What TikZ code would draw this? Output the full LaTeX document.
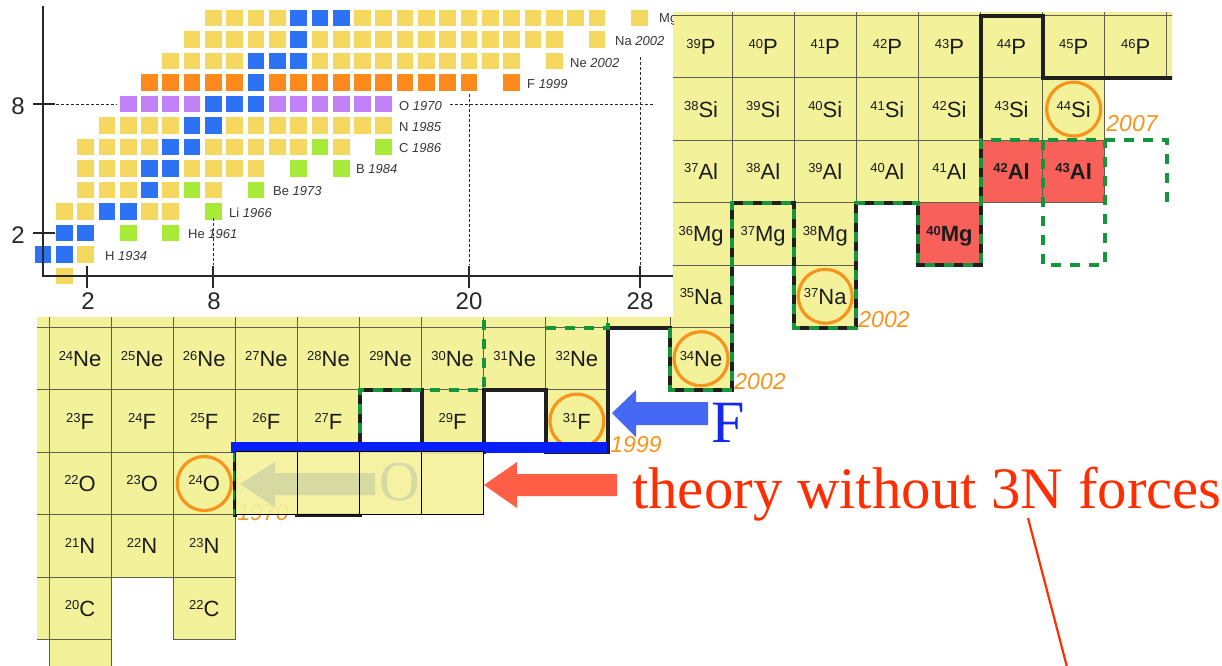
\documentclass[tikz,border=0pt]{standalone}
\usepackage{fontspec}
\setmainfont{Liberation Serif}
\setsansfont{Liberation Sans}
\definecolor{cellY}{RGB}{244,241,155}
\definecolor{cellR}{RGB}{248,96,90}
\definecolor{gridc}{RGB}{95,95,80}
\definecolor{lblc}{RGB}{28,28,28}
\definecolor{sqY}{RGB}{244,216,96}
\definecolor{sqB}{RGB}{45,114,245}
\definecolor{sqO}{RGB}{252,138,28}
\definecolor{sqP}{RGB}{193,128,245}
\definecolor{sqG}{RGB}{168,234,56}
\definecolor{orng}{RGB}{247,148,29}
\definecolor{dgreen}{RGB}{22,150,60}
\definecolor{axgray}{RGB}{40,40,40}
\definecolor{labgray}{RGB}{55,55,55}
\definecolor{barblue}{RGB}{5,30,250}
\definecolor{arrblue}{RGB}{70,105,245}
\definecolor{fblue}{RGB}{20,40,240}
\definecolor{arrred}{RGB}{255,95,70}
\definecolor{txtred}{RGB}{255,45,0}
\definecolor{ghostc}{RGB}{214,217,162}
\newcommand\iso[2]{{\fontsize{13}{13}\selectfont\raisebox{6.5pt}{#1}}{\fontsize{22}{22}\selectfont #2}}
\newcommand\isob[2]{{\bfseries\fontsize{13}{13}\selectfont\raisebox{6.5pt}{#1}}{\bfseries\fontsize{22}{22}\selectfont #2}}
\newcommand\sqr[3]{\fill[#3] (#1-0.39,#2-0.39) rectangle (#1+0.39,#2+0.39);}
\newcommand\sqrun[4]{\foreach \n in {#2,...,#3}{\sqr{\n}{#1}{#4}}}
\tikzset{
 cellbox/.style={fill=cellY, draw=gridc, line width=1pt},
 redbox/.style={fill=cellR, draw=gridc, line width=1pt},
 lbl/.style={font=\sffamily, text=lblc, inner sep=0pt, anchor=base},
 blk/.style={draw=black!88, line width=4pt, line join=miter, line cap=rect},
 grn/.style={draw=dgreen, line width=4pt, dash pattern=on 10pt off 9pt},
 ring/.style={draw=orng, line width=3.2pt},
 yr/.style={font=\sffamily\itshape\fontsize{23}{23}\selectfont, text=orng, inner sep=0pt},
 elab/.style={anchor=west, inner sep=0pt, font=\sffamily\fontsize{13}{13}\selectfont, text=labgray},
 axnum/.style={inner sep=0pt, font=\sffamily\fontsize{24}{24}\selectfont, text=axgray},
 magic/.style={draw=axgray, line width=0.9pt, dash pattern=on 3pt off 2pt},
 axis/.style={draw=axgray, line width=1.8pt},
 overlay box/.style={fill=cellY, fill opacity=0.92, draw=none},
}
\begin{document}
\begin{tikzpicture}[x=1pt,y=-1pt]
\useasboundingbox (0,0) rectangle (1222,665);
% ===================== nuclear chart =====================
\begin{scope}
\clip (37,12) rectangle (1172,665);
\begin{scope}[shift={(49,327.5)},x=62.1pt,y=-62.4pt]
% cells
\foreach \u in {10,...,18} \filldraw[cellbox] (\u,-6) rectangle ++(1,1);
\foreach \u in {10,...,18} \filldraw[cellbox] (\u,-5) rectangle ++(1,1);
\foreach \u in {10,...,16} \filldraw[cellbox] (\u,-4) rectangle ++(1,1);
\foreach \u in {10,...,14} \filldraw[cellbox] (\u,-3) rectangle ++(1,1);
\filldraw[redbox] (15,-3) rectangle ++(1,1);
\filldraw[redbox] (16,-3) rectangle ++(1,1);
\foreach \u in {10,11,12} \filldraw[cellbox] (\u,-2) rectangle ++(1,1);
\filldraw[redbox] (14,-2) rectangle ++(1,1);
\foreach \u in {-1,...,10} \filldraw[cellbox] (\u,-1) rectangle ++(1,1);
\filldraw[cellbox] (12,-1) rectangle ++(1,1);
\foreach \u in {-1,...,8} \filldraw[cellbox] (\u,0) rectangle ++(1,1);
\filldraw[cellbox] (10,0) rectangle ++(1,1);
\foreach \u in {-1,...,4} \filldraw[cellbox] (\u,1) rectangle ++(1,1);
\filldraw[cellbox] (6,1) rectangle ++(1,1);
\filldraw[cellbox] (8,1) rectangle ++(1,1);
\foreach \u in {-1,...,2} \filldraw[cellbox] (\u,2) rectangle ++(1,1);
\foreach \u in {-1,...,2} \filldraw[cellbox] (\u,3) rectangle ++(1,1);
\foreach \u in {-1,0,2} \filldraw[cellbox] (\u,4) rectangle ++(1,1);
\filldraw[cellbox] (0,5) rectangle ++(1,1);
% labels
\foreach \u in {10,...,17}{\pgfmathtruncatemacro\A{\u+29}\node[lbl] (P\A) at (\u+0.5,-4.372) {\iso{\A}{P}};}
\foreach \u in {10,...,16}{\pgfmathtruncatemacro\A{\u+28}\node[lbl] (Si\A) at (\u+0.5,-3.372) {\iso{\A}{Si}};}
\foreach \u in {10,...,14}{\pgfmathtruncatemacro\A{\u+27}\node[lbl] (Al\A) at (\u+0.5,-2.372) {\iso{\A}{Al}};}
\node[lbl] (Al42) at (15.5,-2.372) {\isob{42}{Al}};
\node[lbl] (Al43) at (16.5,-2.372) {\isob{43}{Al}};
\foreach \u in {10,11,12}{\pgfmathtruncatemacro\A{\u+26}\node[lbl] (Mg\A) at (\u+0.5,-1.372) {\iso{\A}{Mg}};}
\node[lbl] (Mg40) at (14.5,-1.372) {\isob{40}{Mg}};
\node[lbl] (Na35) at (10.5,-0.372) {\iso{35}{Na}};
\node[lbl] (Na37) at (12.5,-0.372) {\iso{37}{Na}};
\foreach \u in {0,...,8}{\pgfmathtruncatemacro\A{\u+24}\node[lbl] (Ne\A) at (\u+0.5,0.628) {\iso{\A}{Ne}};}
\node[lbl] (Ne34) at (10.5,0.628) {\iso{34}{Ne}};
\foreach \u in {0,...,4}{\pgfmathtruncatemacro\A{\u+23}\node[lbl] (F\A) at (\u+0.5,1.628) {\iso{\A}{F}};}
\node[lbl] (F29) at (6.5,1.628) {\iso{29}{F}};
\node[lbl] (F31) at (8.5,1.628) {\iso{31}{F}};
\foreach \u in {0,...,2}{\pgfmathtruncatemacro\A{\u+22}\node[lbl] (O\A) at (\u+0.5,2.628) {\iso{\A}{O}};}
\foreach \u in {0,...,2}{\pgfmathtruncatemacro\A{\u+21}\node[lbl] (N\A) at (\u+0.5,3.628) {\iso{\A}{N}};}
\node[lbl] (C20) at (0.5,4.628) {\iso{20}{C}};
\node[lbl] (C22) at (2.5,4.628) {\iso{22}{C}};
% circles
\draw[ring] (16.5,-3.5) circle[radius=27pt];
\draw[ring] (12.5,-0.5) circle[radius=27pt];
\draw[ring] (10.5,0.5) circle[radius=27pt];
\draw[ring] (8.5,1.5) circle[radius=27pt];
\draw[ring] (2.5,2.5) circle[radius=27pt];
% drip lines: black (experiment)
\draw[blk] (5,2) -- (5,1) -- (6,1) -- (6,2) -- (7,2) -- (7,1) -- (8,1) -- (8,2) -- (9,2) -- (9,0) -- (10,0) -- (10,1) -- (11,1) -- (11,-2) -- (12,-2) -- (12,0) -- (13,0) -- (13,-2) -- (14,-2) -- (14,-1) -- (15,-1) -- (15,-5) -- (16,-5) -- (16,-4) -- (18.3,-4);
\draw[blk] (3,2) -- (3,3);
\draw[blk] (4,3) -- (5,3);
% green dashed (theory)
\draw[grn] (3,2) -- (3,3);
\draw[grn] (5,2) -- (5,1) -- (6,1) -- (7,1) -- (7,-1);
\draw[grn] (8,0) -- (9,0) -- (9,-1);
\draw[grn] (10,0) -- (10,1) -- (11,1) -- (11,-2) -- (12,-2) -- (12,0) -- (13,0) -- (13,-2) -- (14,-2) -- (14,-1) -- (15,-1) -- (15,-3) -- (18,-3) -- (18,-2) -- (18.3,-2);
\draw[grn] (16,-3) -- (16,-1) -- (17,-1) -- (17,-3);
\end{scope}
\end{scope}
% years
\node[yr] (y2007) at (1132,124) {2007};
\node[yr] (y2002a) at (884,320) {2002};
\node[yr] (y2002b) at (760,382) {2002};
\node[yr] (y1999) at (636,445) {1999};
\node[yr] (y1970) at (263,513) {1970};
% blue bar
\fill[barblue] (231,442) rectangle (607,453);
% overlay boxes (theory without 3N)
\fill[overlay box] (235.3,451) rectangle (483.7,514);
\fill[ghostc] (240,484) -- (275,462) -- (275,473) -- (375,473) -- (375,495) -- (275,495) -- (275,507) -- cycle;
\node[inner sep=0pt, text=ghostc, font=\fontsize{56}{56}\selectfont] (ghostO) at (400,482) {O};
\foreach \a/\b in {235.3/297.4, 297.4/359.5, 359.5/421.6, 421.6/483.7}
  \draw[black, line width=0.9pt] (\a,451) rectangle (\b,514);
% ===================== inset =====================
\fill[white] (0,0) rectangle (673,317);
\begin{scope}
\clip (0,0) rectangle (673,317);
\begin{scope}[shift={(43,276)},x=21.3pt,y=21.5pt]
\sqr{1}{0}{sqY}
\sqr{0}{1}{sqB}\sqr{1}{1}{sqB}\sqr{2}{1}{sqY}
\sqr{1}{2}{sqB}\sqr{2}{2}{sqB}\sqr{4}{2}{sqG}\sqr{6}{2}{sqG}
\sqrun{3}{1}{2}{sqY}\sqrun{3}{3}{4}{sqB}\sqrun{3}{5}{6}{sqY}\sqr{8}{3}{sqG}
\sqrun{4}{2}{4}{sqY}\sqr{5}{4}{sqB}\sqr{6}{4}{sqY}\sqr{7}{4}{sqG}\sqr{8}{4}{sqY}\sqr{10}{4}{sqG}
\sqrun{5}{2}{4}{sqY}\sqrun{5}{5}{6}{sqB}\sqrun{5}{7}{10}{sqY}\sqr{12}{5}{sqG}\sqr{14}{5}{sqG}
\sqrun{6}{2}{5}{sqY}\sqrun{6}{6}{7}{sqB}\sqrun{6}{8}{12}{sqY}\sqr{13}{6}{sqG}\sqr{14}{6}{sqY}\sqr{16}{6}{sqG}
\sqrun{7}{3}{6}{sqY}\sqrun{7}{7}{8}{sqB}\sqrun{7}{9}{16}{sqY}
\sqrun{8}{4}{7}{sqP}\sqrun{8}{8}{10}{sqB}\sqrun{8}{11}{16}{sqP}
\sqrun{9}{5}{9}{sqO}\sqr{10}{9}{sqB}\sqrun{9}{11}{20}{sqO}\sqr{22}{9}{sqO}
\sqrun{10}{6}{9}{sqY}\sqrun{10}{10}{12}{sqB}\sqrun{10}{13}{22}{sqY}\sqr{24}{10}{sqY}
\sqrun{11}{7}{11}{sqY}\sqr{12}{11}{sqB}\sqrun{11}{13}{24}{sqY}\sqr{26}{11}{sqY}
\sqrun{12}{8}{11}{sqY}\sqrun{12}{12}{14}{sqB}\sqrun{12}{15}{26}{sqY}\sqr{28}{12}{sqY}
\end{scope}
% axes
\draw[axis] (43,6) -- (43,276) -- (673,276);
\draw[axis] (33,104) -- (55,104);
\draw[axis] (33,233) -- (55,233);
\foreach \x in {87,213,469,640} \draw[axis] (\x,266) -- (\x,288);
% magic-number dashed lines
\draw[magic] (56,104) -- (117,104);
\draw[magic] (450,104) -- (655,104);
\draw[magic] (213,218) -- (213,265);
\draw[magic] (469,94) -- (469,265);
\draw[magic] (640,57) -- (640,265);
% axis numbers
\node[axnum] (ya8) at (18,106) {8};
\node[axnum] (ya2) at (18,235) {2};
\node[axnum] (xa2) at (88,301) {2};
\node[axnum] (xa8) at (214,301) {8};
\node[axnum] (xa20) at (469,301) {20};
\node[axnum] (xa28) at (640,301) {28};
% element labels
\node[elab] (lH)  at (105,256) {H \textit{1934}};
\node[elab] (lHe) at (188,234) {He \textit{1961}};
\node[elab] (lLi) at (229,213) {Li \textit{1966}};
\node[elab] (lBe) at (273,191) {Be \textit{1973}};
\node[elab] (lB)  at (356,169) {B \textit{1984}};
\node[elab] (lC)  at (399,148) {C \textit{1986}};
\node[elab] (lN)  at (399,127) {N \textit{1985}};
\node[elab] (lO)  at (399,106) {O \textit{1970}};
\node[elab] (lF)  at (527,84) {F \textit{1999}};
\node[elab] (lNe) at (570,63) {Ne \textit{2002}};
\node[elab] (lNa) at (615,41) {Na \textit{2002}};
\node[elab] (lMg) at (659,19) {Mg};
\end{scope}
% ===================== arrows and captions =====================
\fill[arrblue] (612,413) -- (636,390) -- (636,402) -- (708,402) -- (708,425) -- (636,425) -- (636,437) -- cycle;
\node[anchor=base west, inner sep=0pt, text=fblue, font=\fontsize{60}{60}\selectfont] (Flab) at (711,442) {F};
\fill[arrred] (484,485) -- (517,462) -- (517,474) -- (617,474) -- (617,496) -- (517,496) -- (517,508) -- cycle;
\node[anchor=base west, inner sep=0pt, text=txtred, font=\fontsize{58.8}{58.8}\selectfont] (theory) at (632,508) {theory without 3N forces};
\coordinate (lineTop) at (1028,518);
\coordinate (lineBot) at (1067,667);
\draw[txtred, line width=2.2pt] (lineTop) -- (lineBot);
\end{tikzpicture}
\end{document}
